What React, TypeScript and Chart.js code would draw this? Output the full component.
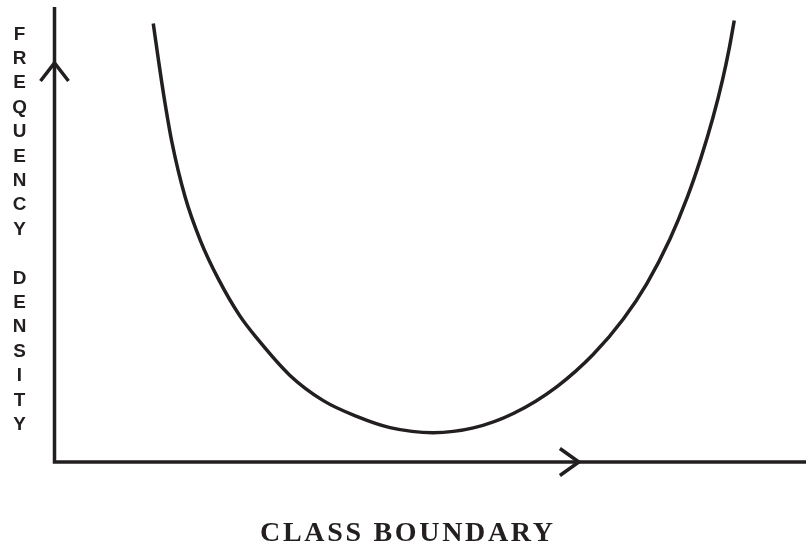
import React, { useEffect, useRef } from "react";
import { Chart, registerables } from "chart.js";

Chart.register(...registerables);

// Class boundary (arbitrary units 0-100) and frequency density (0-100)
const classBoundary = [
  13.2, 13.9, 14.63, 15.69, 17.42, 19.48, 21.94, 24.67, 26.95, 31.38, 35.81, 40.25, 44.68, 50.4,
  55.76, 61.08, 66.85, 71.72, 75.71, 78.82, 81.91, 84.18, 86.04, 87.63, 88.9, 89.83, 90.46,
];
const frequencyDensity = [
  96.37, 88.24, 80.24, 70.22, 58.35, 48.62, 39.96, 32.22, 27.27, 19.03, 13.49, 10.02, 7.56, 6.44,
  7.49, 10.66, 16.53, 23.67, 31.43, 39.16, 49.03, 58.04, 66.9, 75.71, 83.98, 91.25, 97.03,
];
const xArrowAt = 69.8;
const yArrowAt = 87.7;
const xTitle = "CLASS BOUNDARY";
const yTitle = "FREQUENCY DENSITY";

const INK = "#231f20";

const axesPlugin = {
  id: "axesPlugin",
  afterDatasetsDraw(chart: any) {
    const { ctx, chartArea, scales } = chart;
    const xs = scales.x;
    const ys = scales.y;
    const x0 = chartArea.left + 0.5;
    const y0 = chartArea.bottom;
    ctx.save();
    ctx.strokeStyle = INK;
    ctx.lineWidth = 3.5;
    ctx.lineCap = "butt";
    ctx.lineJoin = "miter";
    // axes
    ctx.beginPath();
    ctx.moveTo(x0, chartArea.top);
    ctx.lineTo(x0, y0);
    ctx.lineTo(chartArea.right, y0);
    ctx.stroke();
    // y arrow
    const ty = ys.getPixelForValue(yArrowAt);
    ctx.beginPath();
    ctx.moveTo(x0 - 14, ty + 18);
    ctx.lineTo(x0, ty);
    ctx.lineTo(x0 + 14, ty + 18);
    ctx.stroke();
    // x arrow
    const tx = xs.getPixelForValue(xArrowAt);
    ctx.beginPath();
    ctx.moveTo(tx - 19, y0 - 13.5);
    ctx.lineTo(tx, y0);
    ctx.lineTo(tx - 19, y0 + 13.5);
    ctx.stroke();

    // x title
    ctx.fillStyle = INK;
    ctx.font = "bold 28px 'Liberation Serif', serif";
    ctx.textAlign = "left";
    ctx.textBaseline = "alphabetic";
    const target = 293;
    const w0 = ctx.measureText(xTitle).width;
    const ls = (target - w0) / (xTitle.length - 1);
    (ctx as any).letterSpacing = ls + "px";
    const cx = 406.5;
    ctx.fillText(xTitle, cx - target / 2, 541);
    (ctx as any).letterSpacing = "0px";

    // y title: stacked letters
    ctx.font = "bold 18px 'Liberation Sans', Arial, sans-serif";
    ctx.textAlign = "center";
    const step = 24.4;
    for (let i = 0; i < yTitle.length; i++) {
      const ch = yTitle[i];
      if (ch === " ") continue;
      ctx.save();
      ctx.translate(19.5, 39.5 + i * step);
      ctx.scale(1.05, 1);
      ctx.fillText(ch, 0, 0);
      ctx.restore();
    }
    ctx.restore();
  },
};

export default function App() {
  const ref = useRef<HTMLCanvasElement | null>(null);
  useEffect(() => {
    document.body.style.margin = "0";
    if (!ref.current) return;
    const chart = new Chart(ref.current, {
      type: "line",
      data: {
        datasets: [
          {
            data: classBoundary.map((x, i) => ({ x, y: frequencyDensity[i] })),
            borderColor: INK,
            borderWidth: 3.5,
            pointRadius: 0,
            cubicInterpolationMode: "monotone",
            fill: false,
          },
        ],
      },
      options: {
        animation: false,
        responsive: true,
        maintainAspectRatio: false,
        layout: { padding: { left: 54, top: 7, right: 0, bottom: 85 } },
        plugins: { legend: { display: false }, tooltip: { enabled: false }, title: { display: false } },
        scales: {
          x: { type: "linear", min: 0, max: 100, display: false },
          y: { type: "linear", min: 0, max: 100, display: false },
        },
      },
      plugins: [axesPlugin],
    });
    return () => chart.destroy();
  }, []);
  return (
    <div style={{ position: "absolute", left: 0, top: 0, width: 806, height: 547, background: "#fff" }}>
      <canvas ref={ref} />
    </div>
  );
}
